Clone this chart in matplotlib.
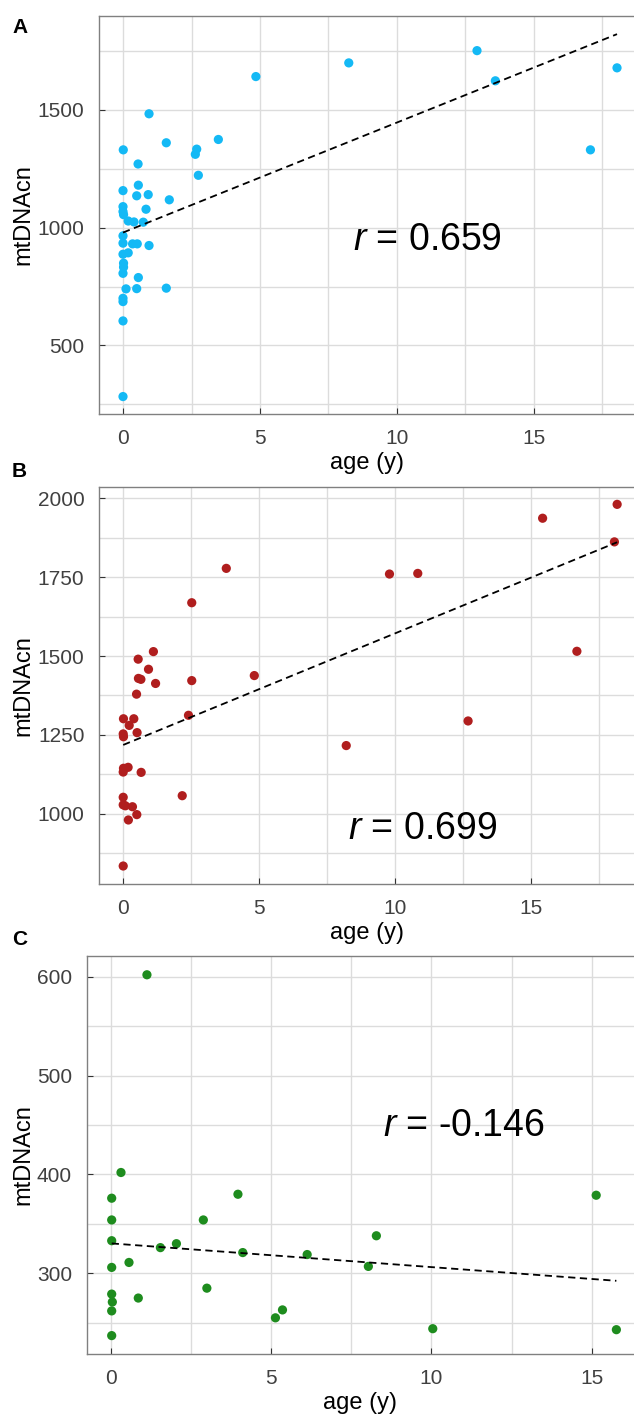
import matplotlib.pyplot as plt
from matplotlib.ticker import MultipleLocator
import numpy as np

plt.rcParams['font.family'] = ['Liberation Sans', 'DejaVu Sans']
plt.rcParams['mathtext.fontset'] = 'custom'
plt.rcParams['mathtext.rm'] = 'Liberation Sans'
plt.rcParams['mathtext.it'] = 'Liberation Sans:italic'

# panel A
age_a = [0.95, 1.58, 0.01, 2.69, 2.64, 3.48, 0.55, 2.75, 0.0, 0.56, 0.50, 0.92,
         1.69, 0.0, 0.0, 0.02, 0.84, 0.19, 0.40, 0.74, 0.0, 0.0, 0.35, 0.52,
         0.95, 0.0, 0.19, 0.02, 0.02, 0.0, 0.56, 0.11, 0.50, 1.58, 0.0, 0.0,
         0.0, 0.0, 4.85, 8.24, 12.92, 13.59, 17.06, 18.03]
cn_a = [1483, 1360, 1330, 1333, 1311, 1374, 1270, 1222, 1157, 1180, 1135, 1140,
        1118, 1089, 1068, 1055, 1078, 1028, 1024, 1023, 965, 934, 931, 931,
        924, 887, 893, 849, 832, 806, 788, 740, 741, 743, 700, 686,
        604, 283, 1641, 1699, 1751, 1623, 1330, 1678]
fit_a = [979, 46.7]   # intercept, slope
r_a = '0.659'

# panel B
age_b = [2.52, 1.11, 0.55, 0.93, 0.56, 0.65, 1.19, 2.52, 0.49, 0.01, 0.39,
         0.22, 2.40, 0.0, 0.01, 0.51, 0.01, 0.18, 0.0, 0.66, 2.17, 0.0, 0.0,
         0.08, 0.34, 0.50, 0.19, 0.0, 3.79, 4.82, 9.79, 10.83, 15.42, 18.16,
         18.06, 16.68, 12.68, 8.2]
cn_b = [1669, 1514, 1490, 1458, 1429, 1426, 1413, 1422, 1379, 1301, 1301,
        1280, 1312, 1253, 1244, 1257, 1144, 1147, 1132, 1131, 1057, 1052, 1028,
        1025, 1022, 997, 980, 834, 1778, 1438, 1760, 1762, 1937, 1981,
        1862, 1515, 1294, 1216]
fit_b = [1218, 35.4]
r_b = '0.699'

# panel C
age_c = [1.12, 0.31, 0.02, 0.02, 0.02, 0.02, 0.02, 0.04, 0.02, 0.02, 0.56,
         0.85, 1.54, 2.04, 2.88, 2.99, 3.96, 4.11, 5.13, 5.35, 6.12, 8.28,
         8.03, 10.04, 15.14, 15.77]
cn_c = [602, 402, 376, 354, 333, 306, 279, 271, 262, 237, 311,
        275, 326, 330, 354, 285, 380, 321, 255, 263, 319, 338,
        307, 244, 379, 243]
fit_c = [330.3, -2.4]
r_c = '-0.146'

panels = [
    dict(tag='A', x=age_a, y=cn_a, fit=fit_a, r=r_a, color='#14B9F5',
         rect=[99, 16, 535, 398], xlim=(-0.876, 18.65), ylim=(209, 1898),
         ymaj=500, ymin=250, rpos=(11.1, 948), ylab=-0.1215),
    dict(tag='B', x=age_b, y=cn_b, fit=fit_b, r=r_b, color='#B01E1E',
         rect=[99, 486.7, 535, 397.6], xlim=(-0.89, 18.78), ylim=(776, 2037),
         ymaj=250, ymin=125, rpos=(11.0, 951), ylab=-0.1215),
    dict(tag='C', x=age_c, y=cn_c, fit=fit_c, r=r_c, color='#1E8C1E',
         rect=[86.7, 956, 547.3, 398], xlim=(-0.76, 16.32), ylim=(218.4, 621),
         ymaj=100, ymin=50, rpos=(11.0, 449), ylab=-0.0963),
]
label_y = [33, 477, 945]

W, H = 634, 1414
fig = plt.figure(figsize=(W / 100, H / 100), dpi=100)

for p, ly in zip(panels, label_y):
    l, t, w, h = p['rect']
    ax = fig.add_axes([l / W, 1 - (t + h) / H, w / W, h / H])
    ax.set_xlim(p['xlim'])
    ax.set_ylim(p['ylim'])
    ax.xaxis.set_major_locator(MultipleLocator(5))
    ax.xaxis.set_minor_locator(MultipleLocator(2.5))
    ax.yaxis.set_major_locator(MultipleLocator(p['ymaj']))
    ax.yaxis.set_minor_locator(MultipleLocator(p['ymin']))
    ax.grid(True, which='both', color='#dcdcdc', linewidth=1)
    ax.set_axisbelow(True)
    ax.tick_params(which='major', direction='in', length=4, width=0.8,
                   color='#333333', labelsize=15, labelcolor='#404040', pad=10.5)
    ax.tick_params(which='minor', length=0)
    for s in ['left', 'bottom', 'top']:
        ax.spines[s].set_color('#808080')
        ax.spines[s].set_linewidth(1)
    ax.spines['right'].set_visible(False)

    ax.scatter(p['x'], p['y'], s=44, color=p['color'], edgecolors='none', zorder=3)
    xs = np.array([min(p['x']), max(p['x'])])
    ax.plot(xs, p['fit'][0] + p['fit'][1] * xs, color='black', lw=1.3,
            linestyle=(0, (4, 2.5)), zorder=4)

    ax.text(p['rpos'][0], p['rpos'][1], '$r$ = ' + p['r'], fontsize=27,
            ha='center', va='center', color='black')
    ax.set_xlabel('age (y)', fontsize=17, labelpad=3)
    ax.set_ylabel('mtDNAcn', fontsize=17)
    ax.yaxis.set_label_coords(p['ylab'], 0.5)
    fig.text(12 / W, 1 - ly / H, p['tag'], fontsize=15, fontweight='bold',
             va='baseline', ha='left')

fig.savefig('out.png', dpi=100)
